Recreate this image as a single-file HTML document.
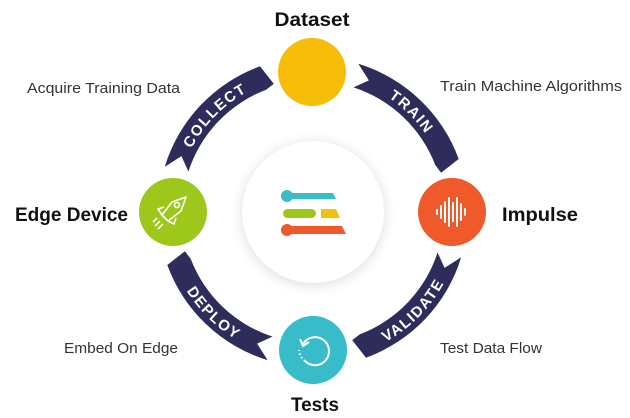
<!DOCTYPE html>
<html><head><meta charset="utf-8"><style>
html,body{margin:0;padding:0;background:#fff;}
svg{display:block;font-family:"Liberation Sans",sans-serif;}
</style></head><body>
<svg id="s" width="630" height="418" viewBox="0 0 630 418">
<defs><filter id="sh" x="-30%" y="-30%" width="160%" height="160%"><feGaussianBlur stdDeviation="6"/></filter></defs>
<circle cx="313" cy="214" r="72" fill="#000" opacity="0.12" filter="url(#sh)"/>
<circle cx="313" cy="212" r="71" fill="#fff"/>
<g id="arcs"></g>
<circle cx="312" cy="72" r="34" fill="#f6bd0a"/>
<circle cx="452" cy="212" r="34" fill="#f05a2b"/>
<circle cx="313" cy="350" r="34" fill="#39bcc9"/>
<circle cx="173" cy="212" r="34" fill="#9dc81b"/>
<g stroke="#fff" stroke-width="2" stroke-linecap="round">
<line x1="437" y1="210" x2="437" y2="214"/><line x1="441" y1="206" x2="441" y2="218"/><line x1="445" y1="202" x2="445" y2="222"/><line x1="449" y1="198" x2="449" y2="226"/><line x1="453" y1="203" x2="453" y2="221"/><line x1="457" y1="198" x2="457" y2="226"/><line x1="461" y1="204" x2="461" y2="220"/><line x1="465" y1="209" x2="465" y2="215"/></g>
<path d="M303 344 A14 14 0 1 1 305 361" fill="none" stroke="#fff" stroke-width="2"/>
<path d="M300 339 L303 346 L309 342" fill="none" stroke="#fff" stroke-width="2"/>
<path d="M305 361 A14 14 0 0 1 299 350" fill="none" stroke="#fff" stroke-width="2" stroke-dasharray="1.5 2.5"/>
<g fill="none" stroke="#fff" stroke-width="1.6" stroke-linejoin="round">
<path d="M186 197 L172 202 L162 215 L168 221 L181 211 Z"/><circle cx="177" cy="205" r="2.5"/>
<path d="M164 207 L158 209 L162 215"/><path d="M176 218 L174 224 L168 221"/>
<line x1="160" y1="221" x2="155" y2="226"/><line x1="163" y1="224" x2="158" y2="229"/><line x1="157" y1="218" x2="153" y2="222"/></g>
<circle cx="287" cy="196" r="6" fill="#3bbcc8"/><path d="M287 193 H333 L336 199 H287 Z" fill="#3bbcc8"/>
<rect x="283" y="209" width="33" height="9" rx="4.5" fill="#9dc81b"/>
<path d="M321 209 H336 L340 218 H321 Z" fill="#f6bd0a"/>
<circle cx="287" cy="230" r="6" fill="#f05a2b"/><path d="M287 226 H342 L346 234 H287 Z" fill="#f05a2b"/>
<g font-weight="bold" fill="#111">
<text x="312" y="26" text-anchor="middle" font-size="19" textLength="75" lengthAdjust="spacingAndGlyphs">Dataset</text>
<text x="502" y="221" font-size="19" textLength="76" lengthAdjust="spacingAndGlyphs">Impulse</text>
<text x="15" y="221" font-size="19" textLength="113" lengthAdjust="spacingAndGlyphs">Edge Device</text>
<text x="315" y="411" text-anchor="middle" font-size="19" textLength="48" lengthAdjust="spacingAndGlyphs">Tests</text></g>
<g fill="#333" font-size="14.5">
<text x="27" y="93" textLength="153" lengthAdjust="spacingAndGlyphs">Acquire Training Data</text>
<text x="440" y="91" textLength="182" lengthAdjust="spacingAndGlyphs">Train Machine Algorithms</text>
<text x="64" y="353" textLength="114" lengthAdjust="spacingAndGlyphs">Embed On Edge</text>
<text x="440" y="353" textLength="102" lengthAdjust="spacingAndGlyphs">Test Data Flow</text></g>
</svg>
<script>
var cx=313,cy=212,ri=131,ro=155,rm=143;
function P(r,a){a=a*Math.PI/180;return (cx+r*Math.sin(a)).toFixed(1)+' '+(cy-r*Math.cos(a)).toFixed(1);}
var names=['TRAIN','VALIDATE','DEPLOY','COLLECT'];
var g=document.getElementById('arcs'),h='';
for(var q=0;q<4;q++){var b=q*90,a0=b+17,a1=b+70;
h+='<path d="M'+P(ro,a0)+' A'+ro+' '+ro+' 0 0 1 '+P(ro,a1)+' L'+P(ri+3,a1+3)+' L'+P(ri,a1-1)+' A'+ri+' '+ri+' 0 0 0 '+P(ri,a0+1)+' L'+P(rm,a0+6)+' Z" fill="#2d2c5b"/>';
var id='tp'+q,am=(a0+a1)/2+1;
if(q==0||q==3){h+='<path id="'+id+'" d="M'+P(ri+6,am-40)+' A'+(ri+6)+' '+(ri+6)+' 0 0 1 '+P(ri+6,am+40)+'" fill="none"/>';}
else{h+='<path id="'+id+'" d="M'+P(ro-6,am+40)+' A'+(ro-6)+' '+(ro-6)+' 0 0 0 '+P(ro-6,am-40)+'" fill="none"/>';}
h+='<text fill="#fff" font-weight="bold" font-size="15" letter-spacing="1.5"><textPath href="#'+id+'" startOffset="50%" text-anchor="middle">'+names[q]+'</textPath></text>';}
g.innerHTML=h;
</script>
</body></html>
